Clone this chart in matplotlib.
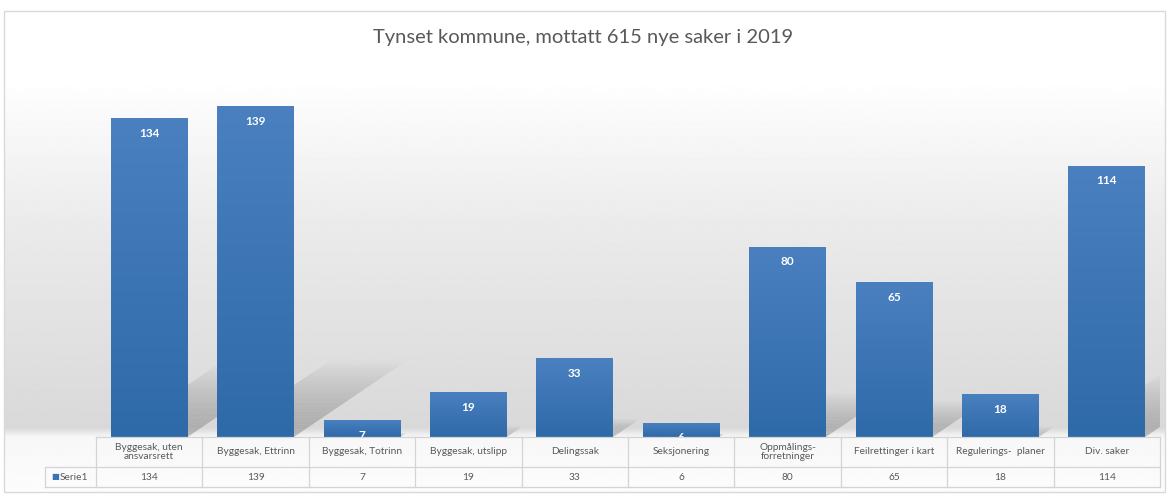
import numpy as np
import matplotlib.pyplot as plt
from matplotlib.patches import Rectangle, Polygon
from matplotlib.colors import LinearSegmentedColormap
from matplotlib.transforms import blended_transform_factory

plt.rcParams['font.family'] = ['Lato', 'DejaVu Sans']

W, H = 1167, 497

title = "Tynset kommune, mottatt 615 nye saker i 2019"
categories = ["Byggesak, uten\nansvarsrett", "Byggesak, Ettrinn", "Byggesak, Totrinn",
              "Byggesak, utslipp", "Delingssak", "Seksjonering",
              "Oppmålings-\nforretninger", "Feilrettinger i kart",
              "Regulerings-  planer", "Div. saker"]
values = [134, 139, 7, 19, 33, 6, 80, 65, 18, 114]
series_name = "Serie1"

GRAY_TXT = "#595959"
LINE = "#d4d4d4"


def fy(py):
    # pixel row -> figure fraction
    return 1 - py / H


fig = plt.figure(figsize=(W / 100, H / 100), dpi=100)

# background gradient
bg = fig.add_axes([0, 0, 1, 1], zorder=-5)
bg.set_xlim(0, W)
bg.set_ylim(H, 0)
bg.axis("off")
rows = np.arange(H)
shade = np.interp(rows, [0, 70, 220, 430, 440, H], [1.0, 1.0, 0.92, 0.85, 0.97, 0.99])
img = np.repeat(shade[:, None], 2, axis=1)
bg.imshow(img, cmap="gray", vmin=0, vmax=1, extent=[4, 1165, 492, 11],
          aspect="auto", interpolation="bilinear")
bg.add_patch(Rectangle((4, 11), 1161, 481, fill=False, edgecolor="#d9d9d9", lw=1))

ax = fig.add_axes([96 / W, fy(437), (1160 - 96) / W, 381 / H])
ax.axis("off")
ax.patch.set_visible(False)

x = np.arange(len(values))
bw = 0.72

# soft shadows cast behind the bars
for xi, v in zip(x, values):
    dy = 0.23 * v
    dx = 0.0076 * v
    n = 30
    for k in range(n):
        t0, t1 = k / n, (k + 1) / n
        x0 = xi - bw / 2
        x1 = xi + bw / 2
        poly = Polygon([(x0 + dx * t0, dy * t0), (x1 + dx * t0, dy * t0),
                        (x1 + dx * t1, dy * t1), (x0 + dx * t1, dy * t1)],
                       closed=True, facecolor="#808080", edgecolor="none",
                       alpha=0.5 * (1 - t0 ** 1.5), zorder=1)
        ax.add_patch(poly)

bars = ax.bar(x, values, width=bw, color="none", edgecolor="none", zorder=3)
grad = np.linspace(0, 1, 64)[:, None]
bar_cmap = LinearSegmentedColormap.from_list("b", ["#4a80c0", "#2f6aa8"])
for b in bars:
    x0, w, h = b.get_x(), b.get_width(), b.get_height()
    im = ax.imshow(grad, cmap=bar_cmap, extent=[x0, x0 + w, 0, h], aspect="auto",
                   interpolation="bilinear", zorder=3)
    im.set_clip_path(b)
ax.set_xlim(-0.5, 9.5)
ax.set_ylim(0, 160)

for xi, v in zip(x, values):
    ax.annotate(str(v), (xi, v), xytext=(0, -11), textcoords="offset points",
                ha="center", va="center", color="white", fontsize=8.5,
                fontweight="bold", zorder=5)

# data table under the plot
tr = blended_transform_factory(ax.transData, fig.transFigure)
left_edge = -0.98
kw = dict(transform=tr, color=LINE, lw=0.9, clip_on=False)
fig.add_artist(plt.Line2D([-0.5, 9.5], [fy(437), fy(437)], **kw))
for py in (467, 487):
    fig.add_artist(plt.Line2D([left_edge, 9.5], [fy(py), fy(py)], **kw))
for k in range(len(values) + 1):
    fig.add_artist(plt.Line2D([k - 0.5, k - 0.5], [fy(437), fy(487)], **kw))
fig.add_artist(plt.Line2D([left_edge, left_edge], [fy(467), fy(487)], **kw))

for xi, lab, v in zip(x, categories, values):
    fig.text(xi, fy(452), lab, transform=tr, ha="center", va="center",
             fontsize=7.3, color=GRAY_TXT, linespacing=1.1)
    fig.text(xi, fy(477), str(v), transform=tr, ha="center", va="center",
             fontsize=7.3, color=GRAY_TXT)

fig.text(-0.885, fy(477), "■", transform=tr, ha="center", va="center",
         fontsize=6, color="#3a73b5")
fig.text(-0.84, fy(477), series_name, transform=tr, ha="left", va="center",
         fontsize=7.3, color=GRAY_TXT)

fig.text(0.5, fy(38), title, ha="center", va="center", fontsize=14.5, color=GRAY_TXT)

fig.savefig("out.png", dpi=100)
